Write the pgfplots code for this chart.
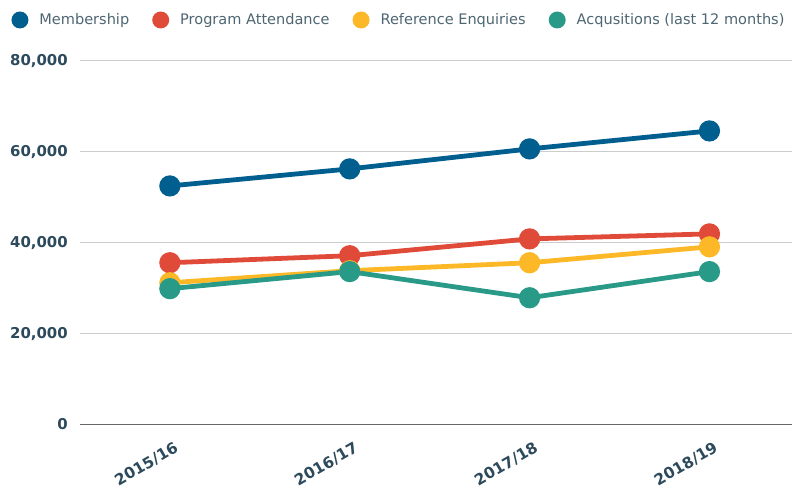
\documentclass[border=0pt]{standalone}
\usepackage{fontspec}
\setmainfont{DejaVu Sans}
\usepackage{pgfplots}
\pgfplotsset{compat=1.18}
\definecolor{cMem}{HTML}{005F8E}
\definecolor{cProg}{HTML}{E04B39}
\definecolor{cRef}{HTML}{FDB827}
\definecolor{cAcq}{HTML}{2A9A88}
\definecolor{tickc}{HTML}{2C4A5B}
\definecolor{legc}{HTML}{4E6672}
\begin{document}
\begin{tikzpicture}
\begin{axis}[
  scale only axis, width=713bp, height=364bp,
  xmin=-0.5, xmax=3.46, ymin=0, ymax=80000,
  axis line style={draw=none},
  tick style={draw=none},
  major tick length=0pt,
  xtick={0,1,2,3},
  xticklabels={2015/16,2016/17,2017/18,2018/19},
  ytick={20000,40000,60000,80000},
  extra y ticks={0},
  extra y tick labels={0},
  extra y tick style={ymajorgrids, major grid style={color=black!60, line width=1.6bp}},
  ymajorgrids,
  major grid style={color=black!20, line width=1bp},
  scaled y ticks=false,
  /pgf/number format/1000 sep={,},
  /pgf/number format/assume math mode=true,
  x tick label style={rotate=30, anchor=north east, font=\bfseries\fontsize{15.5}{18}\selectfont, text=tickc, inner sep=2bp, xshift=-3bp, yshift=-14bp},
  y tick label style={font=\bfseries\fontsize{15}{18}\selectfont, text=tickc, inner sep=0pt, xshift=-12bp},
  legend columns=4,
  legend style={draw=none, fill=none, inner sep=0pt, outer sep=0pt,
    at={(-0.0961,1.1126)}, anchor=west,
    font=\fontsize{14.6}{17}\selectfont, text=legc,
    /tikz/every even column/.append style={column sep=23bp},
    /tikz/every odd column/.append style={column sep=11bp},
    nodes={inner sep=0pt, outer sep=0pt}},
  legend image code/.code={\fill[#1, draw=none] (8.5bp,0) circle (8.5bp);},
  every axis plot/.append style={line width=4.8bp, mark=*, mark size=8.2bp, mark options={draw=none}},
]
\addplot[color=cMem, mark options={fill=cMem}] coordinates {(0,52500) (1,56250) (2,60650) (3,64600)};
\addlegendentry{Membership}
\addplot[color=cProg, mark options={fill=cProg}] coordinates {(0,35600) (1,37150) (2,40850) (3,41950)};
\addlegendentry{Program Attendance}
\addplot[color=cRef, mark options={fill=cRef}] coordinates {(0,31200) (1,33850) (2,35600) (3,39100)};
\addlegendentry{Reference Enquiries}
\addplot[color=cAcq, mark options={fill=cAcq}] coordinates {(0,29900) (1,33650) (2,27900) (3,33650)};
\addlegendentry{Acqusitions (last 12 months)}
\end{axis}
\path ([shift={(-80bp,-64bp)}]current axis.south west) rectangle ([shift={(0bp,61bp)}]current axis.north east);
\end{tikzpicture}
\end{document}
